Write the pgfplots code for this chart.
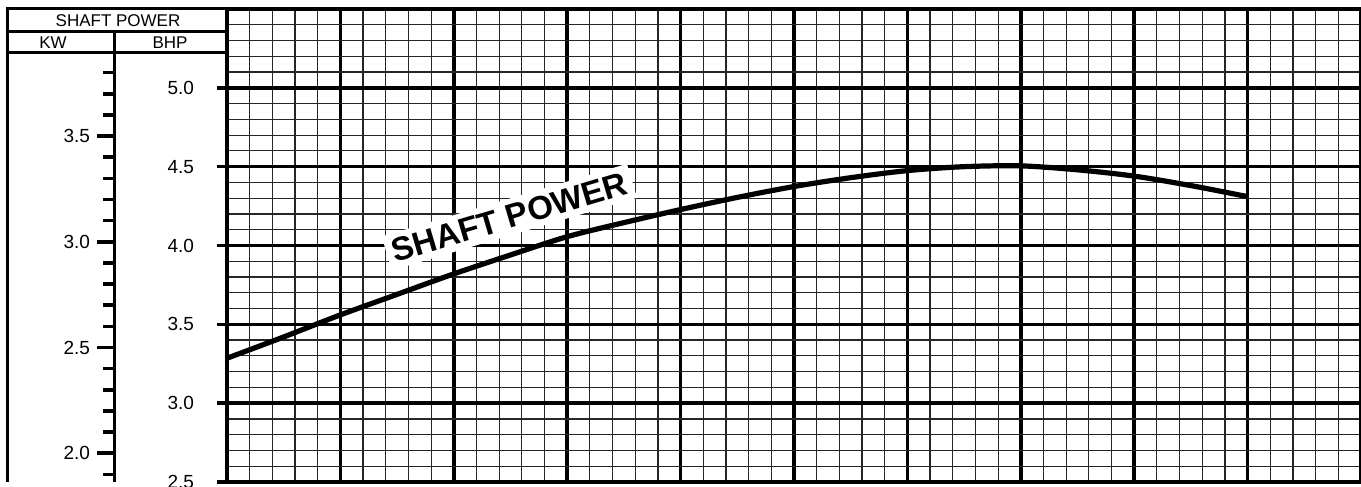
\documentclass[border=0pt]{standalone}
\usepackage{pgfplots}
\pgfplotsset{compat=1.18}
\usepackage{fontspec}
\setmainfont{Liberation Sans}
\begin{document}
\begin{tikzpicture}
\useasboundingbox (-113.5pt,-2.5pt) rectangle (567pt,241pt);
% main grid axis (BHP)
\begin{axis}[
  at={(0pt,0pt)}, anchor=south west,
  scale only axis, width=567pt, height=236.5pt,
  xmin=0, xmax=10, ymin=2.5, ymax=5.5,
  xtick={0,1,...,10}, xticklabels={},
  ytick={2.5,3.0,3.5,4.0,4.5,5.0},
  yticklabels={2.5,3.0,3.5,4.0,4.5,5.0},
  minor x tick num=4,
  minor ytick={2.6,2.7,2.8,2.9,3.1,3.2,3.3,3.4,3.6,3.7,3.8,3.9,4.1,4.2,4.3,4.4,4.6,4.7,4.8,4.9,5.1,5.2,5.3,5.4},
  grid=both,
  major grid style={black, line width=1.8pt},
  minor grid style={black!85, line width=0.6pt},
  axis line style={line width=2pt},
  x tick style={draw=none},
  y tick style={line width=1.8pt, black},
  minor tick length=0pt,
  major tick length=5pt,
  tick align=outside,
  yticklabel style={font=\fontsize{9.5pt}{10pt}\selectfont, xshift=-8pt},
  /pgf/number format/assume math mode=true,
  clip=false,
]
\addplot[black, line width=2.6pt, smooth] coordinates {
(0,3.285) (0.5,3.42) (1,3.56) (1.5,3.69) (2,3.82) (2.5,3.94) (3,4.056)
(3.5,4.145) (4,4.228) (4.5,4.305) (5,4.374) (5.5,4.43) (6,4.475)
(6.5,4.50) (7,4.505) (7.5,4.48) (8,4.44) (8.5,4.38) (9,4.31)
};
\node[fill=white, inner sep=3pt, rotate=16.5,
  font=\fontsize{16.5pt}{18pt}\selectfont\bfseries]
  at (axis cs:2.49,4.18) {SHAFT POWER};
\end{axis}
% KW scale axis
\begin{axis}[
  at={(-56pt,0pt)}, anchor=south west,
  scale only axis, width=1pt, height=236.5pt,
  xmin=0, xmax=1, ymin=1.864, ymax=4.101,
  hide x axis,
  axis y line*=left,
  y axis line style={draw=none},
  ytick={2.0,2.5,3.0,3.5},
  yticklabels={2.0,2.5,3.0,3.5},
  minor ytick={1.9,2.1,2.2,2.3,2.4,2.6,2.7,2.8,2.9,3.1,3.2,3.3,3.4,3.6,3.7,3.8},
  tick align=outside,
  major tick length=9pt, minor tick length=6pt,
  tick style={line width=1.8pt, black},
  yticklabel style={font=\fontsize{9.5pt}{10pt}\selectfont},
  /pgf/number format/assume math mode=true,
]
\addplot[draw=none] coordinates {(0,2) (1,3)};
\end{axis}
% left panel frame
\draw[line width=1.5pt] (-109.5pt,0pt) -- (-109.5pt,236.5pt) -- (0pt,236.5pt);
\draw[line width=1.5pt] (-56pt,0pt) -- (-56pt,225pt);
\draw[line width=1.5pt] (-109.5pt,225pt) -- (0pt,225pt);
\draw[line width=1.5pt] (-109.5pt,214.5pt) -- (0pt,214.5pt);
\node[font=\fontsize{8.5pt}{10pt}\selectfont, inner sep=0pt] at (-54.5pt,230.6pt) {SHAFT POWER};
\node[font=\fontsize{8.5pt}{10pt}\selectfont, inner sep=0pt] at (-87pt,219.8pt) {KW};
\node[font=\fontsize{8.5pt}{10pt}\selectfont, inner sep=0pt] at (-28.5pt,219.8pt) {BHP};
\end{tikzpicture}
\end{document}
